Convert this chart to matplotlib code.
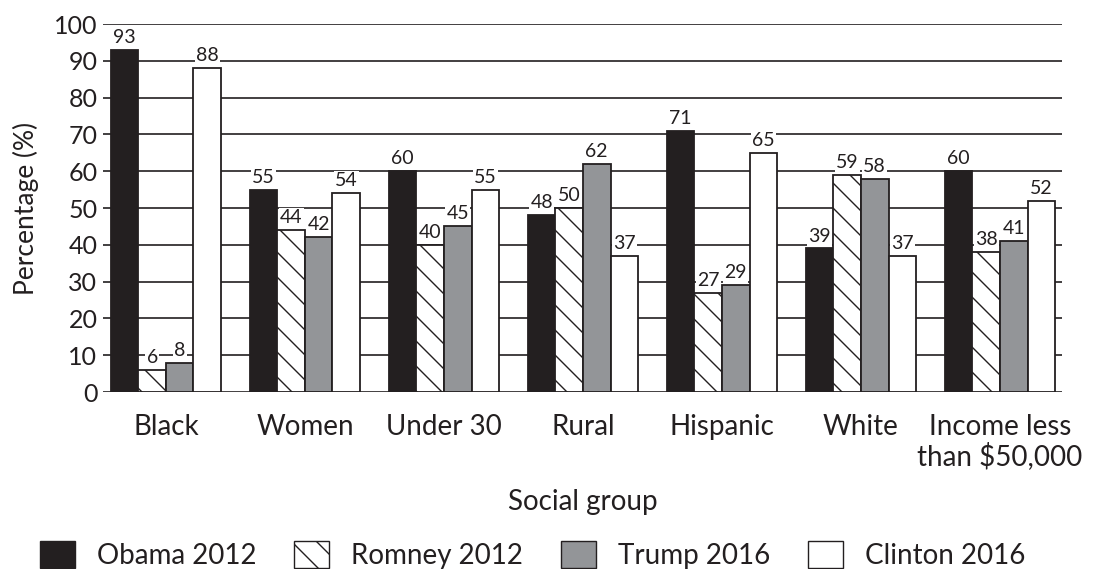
import matplotlib
matplotlib.use("Agg")
import matplotlib.pyplot as plt
import numpy as np
from matplotlib.patches import Patch
from matplotlib.backend_bases import GraphicsContextBase

# Slightly denser hatch lines than matplotlib's default (8 instead of 6 per unit)
_orig_hatch_path = GraphicsContextBase.get_hatch_path
GraphicsContextBase.get_hatch_path = lambda self, density=8.0: _orig_hatch_path(self, density)

plt.rcParams['font.family'] = ['Lato', 'DejaVu Sans']

categories = ["Black", "Women", "Under 30", "Rural", "Hispanic", "White", "Income less\nthan $50,000"]
series_names = ["Obama 2012", "Romney 2012", "Trump 2016", "Clinton 2016"]
obama_2012 = [93, 55, 60, 48, 71, 39, 60]
romney_2012 = [6, 44, 40, 50, 27, 59, 38]
trump_2016 = [8, 42, 45, 62, 29, 58, 41]
clinton_2016 = [88, 54, 55, 37, 65, 37, 52]
yticks = list(range(0, 101, 10))

series = [obama_2012, romney_2012, trump_2016, clinton_2016]
dark = "#231f20"
styles = [
    dict(facecolor=dark, hatch=None),
    dict(facecolor="white", hatch="\\"),
    dict(facecolor="#939598", hatch=None),
    dict(facecolor="white", hatch=None),
]

plt.rcParams['hatch.color'] = dark
plt.rcParams['hatch.linewidth'] = 1.0

fig = plt.figure(figsize=(11, 5.69), dpi=100)
ax = fig.add_axes([103/1100, 1 - 392/569, (1062-103)/1100, (392-24)/569])

x = np.arange(len(categories))
w = 0.198
for i, (vals, st) in enumerate(zip(series, styles)):
    pos = x + (i - 1.5) * w
    ax.bar(pos, vals, width=w, facecolor=st['facecolor'], hatch=st['hatch'],
           edgecolor=dark, linewidth=1.3, zorder=3, label=series_names[i])
    for px_, v in zip(pos, vals):
        ax.annotate(str(v), (px_, v), xytext=(0, 5), textcoords='offset points',
                    ha='center', va='baseline', fontsize=14, color=dark, zorder=2,
                    bbox=dict(facecolor='white', edgecolor='none', pad=0.8))

ax.set_ylim(0, 100)
ax.set_xlim(-0.453, 6.446)
ax.set_yticks(yticks)
ax.set_yticklabels([str(t) for t in yticks], fontsize=18, color=dark)
ax.yaxis.grid(True, color=dark, linewidth=1.2, zorder=0)
ax.set_axisbelow(True)
for s in ax.spines.values():
    s.set_visible(False)
ax.tick_params(axis='y', length=0, pad=4)
ax.set_xticks(x)
ax.set_xticklabels(categories, fontsize=20, color=dark, va='top', linespacing=1.1)
ax.tick_params(axis='x', length=0, pad=16)
ax.set_ylabel("Percentage (%)", fontsize=19, color=dark, labelpad=11)
ax.set_xlabel("Social group", fontsize=20, color=dark, labelpad=13)

handles = [Patch(facecolor=st['facecolor'], hatch=st['hatch'], edgecolor=dark, linewidth=1.0)
           for st in styles]
fig.legend(handles, series_names, loc='center left', bbox_to_anchor=(40/1100, 1 - 555/569),
           ncol=4, frameon=False, fontsize=20, handlelength=1.26, handleheight=1.15,
           handletextpad=0.8, columnspacing=1.35, labelcolor=dark, borderpad=0, borderaxespad=0)

fig.savefig("out.png", dpi=100)
